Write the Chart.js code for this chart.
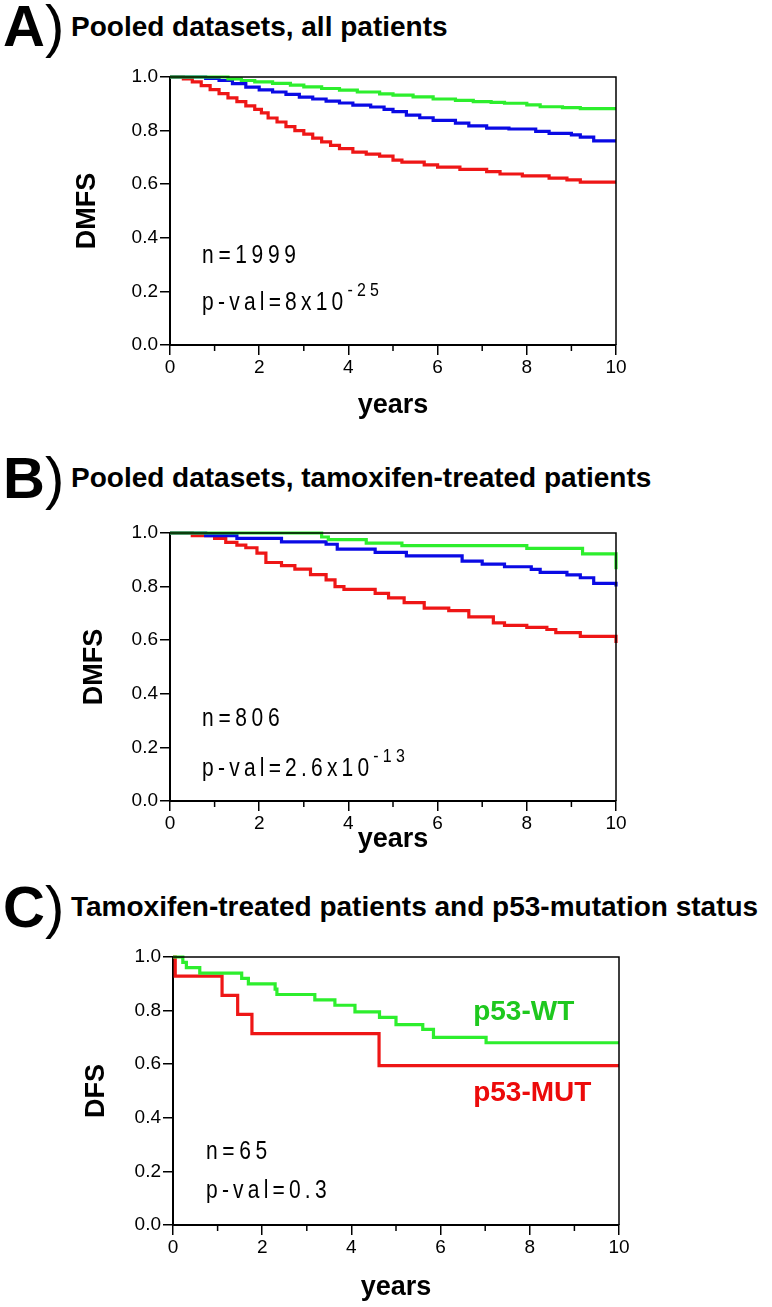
<!DOCTYPE html>
<html>
<head>
<meta charset="utf-8">
<title>DMFS / DFS Kaplan-Meier curves</title>
<script src="https://cdn.jsdelivr.net/npm/chart.js@4.4.1/dist/chart.umd.min.js"></script>
<style>
  html, body { margin: 0; padding: 0; background: #fff; }
  body { position: relative; width: 772px; height: 1307px; overflow: hidden; font-family: "Liberation Sans", Arial, sans-serif; }
  canvas { position: absolute; left: 0; }
  .letter { position: absolute; left: 3px; font-size: 58px; line-height: 58px; font-weight: bold; white-space: nowrap; }
  .letter span { font-weight: normal; }
  .ptitle { position: absolute; left: 71px; font-size: 28px; line-height: 28px; font-weight: bold; white-space: nowrap; }
</style>
</head>
<body>

<div class="letter" style="top:-3px">A<span>)</span></div>
<div class="ptitle" style="top:13px">Pooled datasets, all patients</div>
<canvas id="chartA" width="772" height="430" style="top:0"></canvas>

<div class="letter" style="top:449px">B<span>)</span></div>
<div class="ptitle" style="top:464px">Pooled datasets, tamoxifen-treated patients</div>
<canvas id="chartB" width="772" height="430" style="top:430px"></canvas>

<div class="letter" style="top:878px">C<span>)</span></div>
<div class="ptitle" style="top:893px">Tamoxifen-treated patients and p53-mutation status</div>
<canvas id="chartC" width="772" height="447" style="top:860px"></canvas>

<script>
"use strict";

/* Panel A - pooled datasets, all patients (years, survival) */
let aGreenYears = [0, 1.3, 1.6, 1.9, 2.3, 2.7, 3.0, 3.4, 3.8, 4.2, 4.7, 5.0, 5.45, 5.9, 6.4, 6.8, 7.2, 7.5, 8.0, 8.3, 8.8, 9.2, 10];
let aGreenSurv = [1, 0.993, 0.987, 0.982, 0.976, 0.97, 0.963, 0.957, 0.951, 0.944, 0.937, 0.932, 0.926, 0.918, 0.913, 0.908, 0.905, 0.902, 0.896, 0.889, 0.886, 0.882, 0.882];
let aBlueYears = [0, 0.8, 1.1, 1.4, 1.7, 2.0, 2.3, 2.6, 2.9, 3.2, 3.5, 3.8, 4.1, 4.5, 4.8, 5.0, 5.3, 5.6, 5.9, 6.4, 6.7, 7.1, 7.6, 8.2, 8.5, 9.0, 9.2, 9.5, 10];
let aBlueSurv = [1, 0.995, 0.987, 0.975, 0.962, 0.952, 0.944, 0.935, 0.925, 0.918, 0.91, 0.903, 0.895, 0.888, 0.879, 0.871, 0.858, 0.848, 0.838, 0.828, 0.818, 0.809, 0.806, 0.797, 0.79, 0.784, 0.776, 0.762, 0.762];
let aRedYears = [0, 0.3, 0.5, 0.7, 0.9, 1.1, 1.3, 1.5, 1.7, 1.9, 2.05, 2.2, 2.4, 2.6, 2.8, 3.0, 3.2, 3.4, 3.6, 3.8, 4.1, 4.4, 4.7, 5.0, 5.2, 5.7, 6.0, 6.5, 7.1, 7.4, 7.9, 8.5, 8.9, 9.2, 10];
let aRedSurv = [1, 0.993, 0.982, 0.968, 0.953, 0.938, 0.922, 0.908, 0.892, 0.879, 0.866, 0.847, 0.832, 0.815, 0.8, 0.787, 0.772, 0.758, 0.745, 0.733, 0.72, 0.712, 0.705, 0.69, 0.682, 0.672, 0.664, 0.655, 0.647, 0.638, 0.631, 0.623, 0.616, 0.608, 0.608];

/* Panel B - pooled datasets, tamoxifen-treated */
let bGreenYears = [0, 3.4, 3.55, 4.4, 5.2, 8.0, 9.25, 10, 10];
let bGreenSurv = [1, 0.985, 0.975, 0.962, 0.953, 0.943, 0.922, 0.922, 0.865];
let bBlueYears = [0, 0.8, 1.5, 2.5, 3.5, 3.75, 4.6, 5.3, 6.55, 7.0, 7.5, 8.1, 8.3, 8.9, 9.2, 9.5, 10, 10];
let bBlueSurv = [1, 0.99, 0.98, 0.967, 0.958, 0.94, 0.928, 0.915, 0.895, 0.884, 0.874, 0.864, 0.853, 0.844, 0.833, 0.812, 0.812, 0.8];
let bRedYears = [0, 0.5, 1.0, 1.25, 1.5, 1.7, 1.95, 2.15, 2.5, 2.8, 3.15, 3.5, 3.7, 3.9, 4.6, 4.9, 5.25, 5.7, 6.25, 6.7, 7.25, 7.5, 8.0, 8.45, 8.65, 9.2, 10, 10];
let bRedSurv = [1, 0.99, 0.98, 0.965, 0.955, 0.945, 0.925, 0.89, 0.878, 0.865, 0.845, 0.825, 0.8, 0.79, 0.775, 0.758, 0.74, 0.72, 0.71, 0.687, 0.665, 0.655, 0.648, 0.64, 0.628, 0.614, 0.614, 0.59];

/* Panel C - tamoxifen-treated, p53 status */
let cWtYears = [0, 0.22, 0.3, 0.6, 1.54, 1.69, 2.29, 2.33, 3.18, 3.63, 4.08, 4.63, 5.0, 5.6, 5.84, 7.02, 10];
let cWtSurv = [1, 0.98, 0.96, 0.94, 0.92, 0.9, 0.88, 0.86, 0.84, 0.82, 0.795, 0.775, 0.748, 0.73, 0.7, 0.68, 0.68];
let cMutYears = [0, 0.05, 1.1, 1.45, 1.77, 4.62, 10];
let cMutSurv = [1, 0.929, 0.857, 0.786, 0.714, 0.595, 0.595];

let xTicks = [0, 2, 4, 6, 8, 10];
let yTicks = [0, 0.2, 0.4, 0.6, 0.8, 1.0];

const GREEN = "rgb(45,238,45)";
const BLUE = "rgb(10,10,228)";
const RED = "rgb(238,22,22)";
const FONT = "'Liberation Sans', Arial, sans-serif";

// box (top + right frame) and minor x ticks
const framePlugin = {
  id: "frame",
  afterDraw(chart) {
    let ctx = chart.ctx;
    let a = chart.chartArea;
    let xs = chart.scales.x;
    ctx.save();
    ctx.strokeStyle = "#000";
    ctx.lineWidth = 1.5;
    ctx.beginPath();
    ctx.moveTo(a.left, a.top);
    ctx.lineTo(a.right, a.top);
    ctx.lineTo(a.right, a.bottom);
    ctx.stroke();
    for (let v = 1; v < 10; v += 2) {
      let px = xs.getPixelForValue(v);
      ctx.beginPath();
      ctx.moveTo(px, a.bottom);
      ctx.lineTo(px, a.bottom + 6);
      ctx.stroke();
    }
    ctx.restore();
  }
};

// n= / p-val= / group labels, placed in data coordinates
// (squeeze < 1 draws the text condensed, like the narrow face in the figure)
const notesPlugin = {
  id: "notes",
  afterDraw(chart, args, opts) {
    let ctx = chart.ctx;
    let xs = chart.scales.x;
    let ys = chart.scales.y;
    for (let n of opts.items || []) {
      let px = xs.getPixelForValue(n.x);
      let py = ys.getPixelForValue(n.y);
      let k = n.squeeze || 1;
      ctx.save();
      ctx.translate(px, py);
      ctx.scale(k, 1);
      ctx.fillStyle = n.color || "#000";
      ctx.font = n.font;
      ctx.letterSpacing = (n.spacing || 0) + "px";
      ctx.textAlign = "left";
      ctx.textBaseline = "middle";
      ctx.fillText(n.text, 0, 0);
      if (n.sup) {
        let w = ctx.measureText(n.text).width;
        ctx.font = n.supFont;
        ctx.fillText(n.sup, w, -12);
      }
      ctx.restore();
    }
  }
};

function toPoints(xv, yv) {
  return xv.map((v, i) => ({ x: v, y: yv[i] }));
}

function kmChart(id, series, layout, yLabel, notes) {
  let ctx = document.getElementById(id);
  return new Chart(ctx, {
    type: "line",
    data: {
      datasets: series.map(s => ({
        data: toPoints(s.x, s.y),
        borderColor: s.color,
        borderWidth: 3.2,
        stepped: true,
        pointRadius: 0,
        fill: false,
        clip: 4
      }))
    },
    options: {
      responsive: false,
      animation: false,
      layout: { padding: { left: 0, right: layout.right, top: layout.top, bottom: 0 } },
      plugins: {
        legend: { display: false },
        tooltip: { enabled: false },
        notes: { items: notes }
      },
      scales: {
        x: {
          type: "linear",
          min: 0,
          max: 10,
          afterBuildTicks: s => { s.ticks = xTicks.map(v => ({ value: v })); },
          ticks: { color: "#000", font: { family: FONT, size: 19 }, padding: 1, maxRotation: 0 },
          grid: { drawOnChartArea: false, tickLength: 10, color: "#000", lineWidth: 1.5 },
          border: { color: "#000", width: 2 },
          title: { display: true, text: "years", color: "#000", font: { family: FONT, size: 27, weight: "bold" }, padding: { top: 0, bottom: layout.xTitlePad } },
          afterFit: s => { s.height = layout.xh; }
        },
        y: {
          min: 0,
          max: 1,
          afterBuildTicks: s => { s.ticks = yTicks.map(v => ({ value: v })); },
          ticks: { color: "#000", font: { family: FONT, size: 19 }, padding: 2, callback: v => v.toFixed(1) },
          grid: { drawOnChartArea: false, tickLength: 10, color: "#000", lineWidth: 1.5 },
          border: { color: "#000", width: 2 },
          title: { display: true, text: yLabel, color: "#000", font: { family: FONT, size: 27, weight: "bold" }, padding: { top: layout.yTitlePad, bottom: 0 } },
          afterFit: s => { s.width = layout.left; }
        }
      }
    },
    plugins: [framePlugin, notesPlugin]
  });
}

const nFont = "25px " + FONT;
const supFont = "19px " + FONT;
const nSqueeze = 0.84;

kmChart("chartA",
  [
    { x: aGreenYears, y: aGreenSurv, color: GREEN },
    { x: aBlueYears, y: aBlueSurv, color: BLUE },
    { x: aRedYears, y: aRedSurv, color: RED }
  ],
  { left: 170, right: 156, top: 77, xh: 85, xTitlePad: 8, yTitlePad: 71 },
  "DMFS",
  [
    { x: 0.72, y: 0.33, text: "n=1999", font: nFont, spacing: 5.5, squeeze: nSqueeze },
    { x: 0.72, y: 0.157, text: "p-val=8x10", sup: "-25", font: nFont, supFont: supFont, spacing: 5, squeeze: nSqueeze }
  ]);

kmChart("chartB",
  [
    { x: bGreenYears, y: bGreenSurv, color: GREEN },
    { x: bBlueYears, y: bBlueSurv, color: BLUE },
    { x: bRedYears, y: bRedSurv, color: RED }
  ],
  { left: 170, right: 156, top: 103, xh: 59, xTitlePad: 4, yTitlePad: 78 },
  "DMFS",
  [
    { x: 0.72, y: 0.306, text: "n=806", font: nFont, spacing: 5.5, squeeze: nSqueeze },
    { x: 0.72, y: 0.12, text: "p-val=2.6x10", sup: "-13", font: nFont, supFont: supFont, spacing: 5, squeeze: nSqueeze }
  ]);

kmChart("chartC",
  [
    { x: cWtYears, y: cWtSurv, color: GREEN },
    { x: cMutYears, y: cMutSurv, color: RED }
  ],
  { left: 173, right: 153, top: 97, xh: 82, xTitlePad: 3, yTitlePad: 80 },
  "DFS",
  [
    { x: 0.74, y: 0.272, text: "n=65", font: nFont, spacing: 5.5, squeeze: nSqueeze },
    { x: 0.74, y: 0.127, text: "p-val=0.3", font: nFont, spacing: 5, squeeze: nSqueeze },
    { x: 6.73, y: 0.795, text: "p53-WT", font: "bold 28px " + FONT, color: "rgb(30,200,30)" },
    { x: 6.73, y: 0.49, text: "p53-MUT", font: "bold 28px " + FONT, color: "rgb(236,10,10)" }
  ]);
</script>
</body>
</html>
